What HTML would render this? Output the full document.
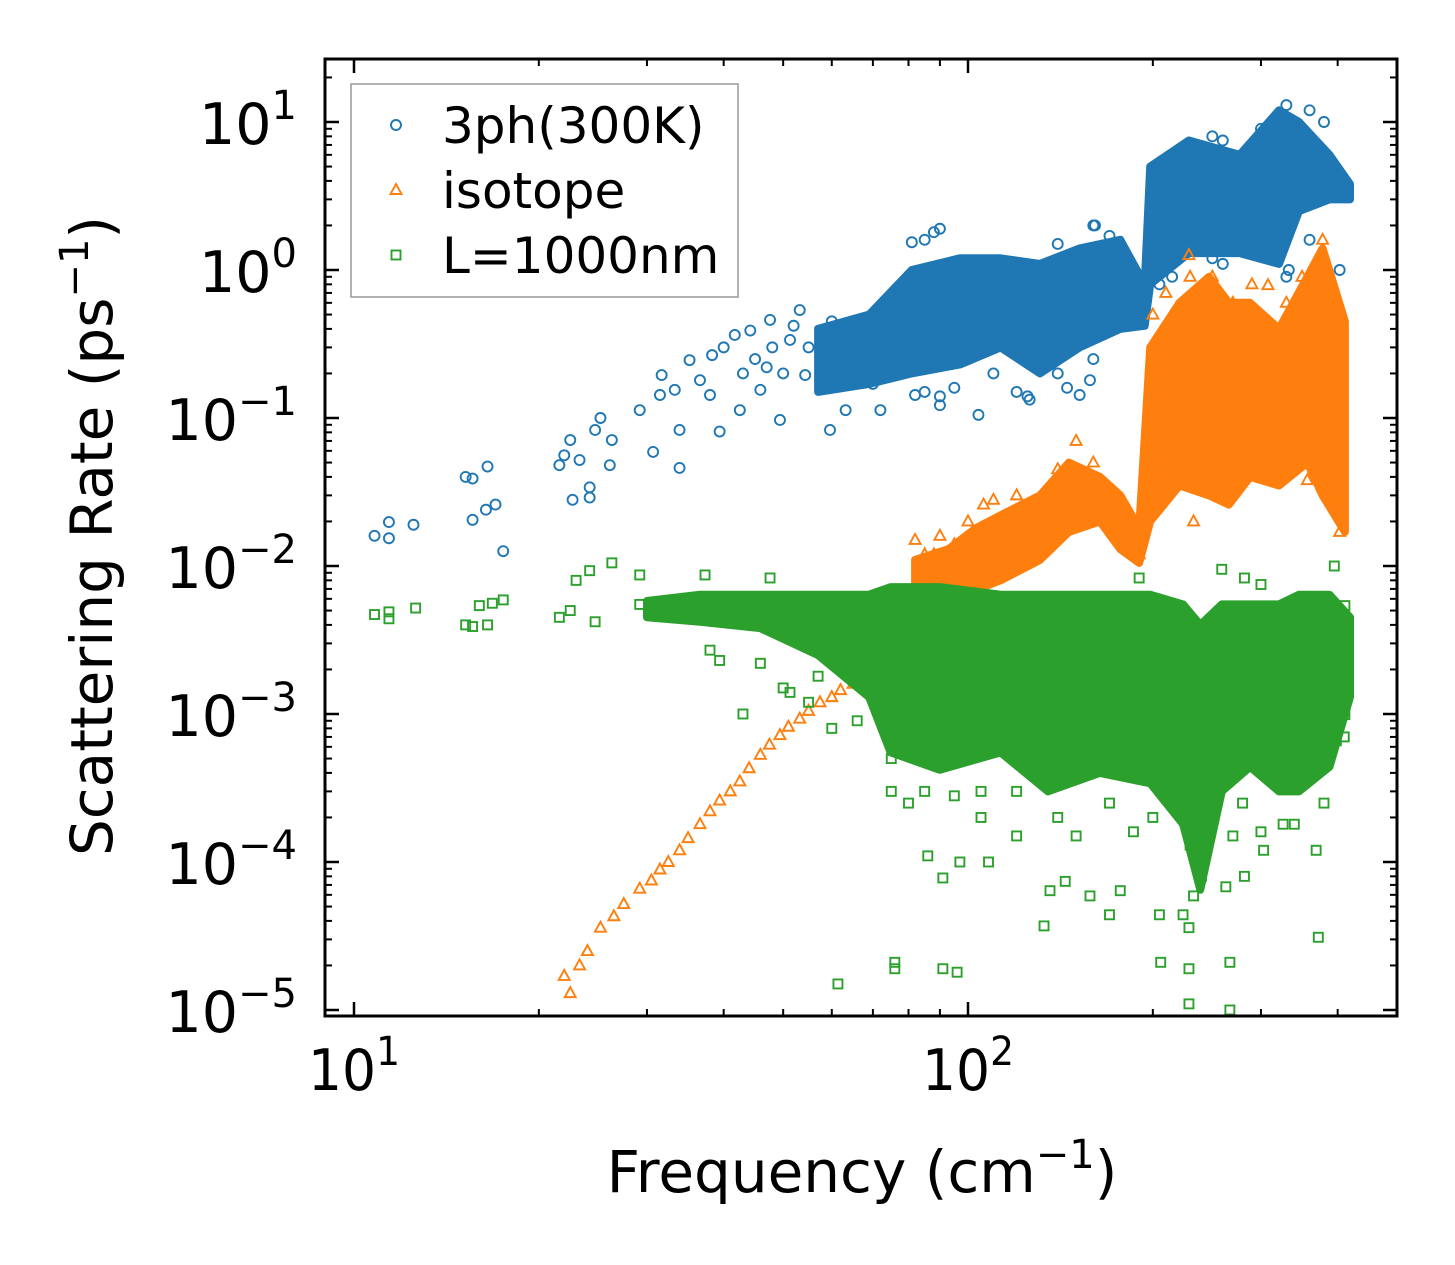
<!DOCTYPE html>
<html><head><meta charset="utf-8"><style>
html,body{margin:0;padding:0;background:#fff;}
svg{display:block;font-family:"DejaVu Sans","Liberation Sans",sans-serif;}
</style></head><body>
<svg id="chart" width="1455" height="1265" viewBox="0 0 1455 1265" xmlns="http://www.w3.org/2000/svg">
<rect x="0" y="0" width="1455" height="1265" fill="#fff"/>
<g id="marks"></g>
<g id="axes"></g>
</svg>
<script>
const xTickExps = [1, 2];
const yTickExps = [1, 0, -1, -2, -3, -4, -5];
const xLabel = "Frequency (cm";
const yLabel = "Scattering Rate (ps";

// Blue (3ph) dense band: freq, low, high
const blueBandF  = [57, 69, 81, 97, 113, 131, 152, 177, 194, 198, 229, 277, 321, 346, 388, 419];
const blueBandLo = [0.15, 0.17, 0.2, 0.23, 0.3, 0.2, 0.3, 0.4, 0.42, 0.8, 1.3, 1.3, 1.1, 2.5, 3.0, 3.0];
const blueBandHi = [0.4, 0.5, 1.0, 1.2, 1.2, 1.1, 1.4, 1.6, 0.8, 5.0, 7.5, 6.0, 12, 10, 6.0, 3.8];
// Blue sparse points
const blueF = [10.8,11.4,11.4,12.5,15.2,15.6,16.5,15.6,16.4,17,17.5,21.6,22,22.5,22.7,23.3,24.2,24.2,24.7,25.2,26.1,26.3,29.2,30.7,31.7,31.5,33.3,33.9,35.2,33.9,36.6,38,38.3,39.4,41.7,42.5,44.2,45.9,47.6,49.4,51.3,53.2,54.3,59.6,63.2,72,82,90,104,126,152,158,167,81,88,161,333,239,411,403,
  60,60,60,65,65,70,70,75,75,85,85,90,90,95,95,100,100,110,110,120,120,125,140,140,145,160,160,170,185,185,190,205,205,215,215,250,250,260,260,300,300,330,330,360,360,380,400,
  45,48,50,52,55,47,43,40];
const blueV = [0.016,0.0198,0.0154,0.019,0.04,0.039,0.047,0.0205,0.024,0.026,0.0126,0.048,0.056,0.071,0.028,0.052,0.034,0.029,0.083,0.1,0.048,0.071,0.113,0.059,0.195,0.143,0.155,0.046,0.246,0.083,0.18,0.143,0.266,0.081,0.364,0.113,0.39,0.155,0.46,0.097,0.337,0.536,0.195,0.083,0.113,0.113,0.143,0.122,0.105,0.133,0.143,0.18,0.39,1.54,1.8,2.0,1.0,2.2,3.2,1.0,
  0.3,0.25,0.45,0.35,0.2,0.45,0.17,0.5,0.3,1.6,0.15,1.9,0.14,1.0,0.16,0.9,0.25,1.1,0.2,1.0,0.15,0.14,1.5,0.2,0.16,2.0,0.25,1.7,0.9,0.5,0.55,5,0.8,6,0.9,8,1.2,7.5,1.1,9,1.5,13,0.9,12,1.6,10,3.5,
  0.25,0.3,0.2,0.42,0.3,0.22,0.2,0.3];

// Orange (isotope) points
const orangeF = [22,22.5,23.3,24,25.2,26.5,27.5,29.2,30.5,31.5,32.5,33.9,35,36.6,38,39.4,41,42.5,44,45.9,47.5,49.4,51,53.2,55,57.4,60,62,65,67,72,77.6,106,103,229,308,378,403,403,233,357,88,95,
  82,85,90,100,110,120,140,150,160,180,190,200,210,230,250,270,290,310,330,350,370,390];
const orangeV = [1.7e-5,1.3e-5,2e-5,2.5e-5,3.6e-5,4.3e-5,5.2e-5,6.6e-5,7.5e-5,8.9e-5,1.0e-4,1.2e-4,1.45e-4,1.8e-4,2.2e-4,2.6e-4,3.0e-4,3.5e-4,4.3e-4,5.3e-4,6.2e-4,7.2e-4,8.2e-4,9.3e-4,1.05e-3,1.2e-3,1.3e-3,1.45e-3,1.6e-3,1.7e-3,2e-3,3.6e-3,0.026,0.0087,1.26,0.79,1.6,0.028,0.017,0.02,0.038,0.012,0.014,
  0.015,0.012,0.016,0.02,0.028,0.03,0.045,0.07,0.05,0.025,0.012,0.5,0.7,0.9,0.9,0.6,0.8,0.35,0.6,0.9,0.25,0.1];
// Orange dense band
const orangeBandF  = [82, 93, 103, 113, 131, 146, 164, 177, 190, 198, 221, 247, 266, 288, 321, 357, 378, 411];
const orangeBandLo = [0.0031, 0.0044, 0.0069, 0.008, 0.011, 0.017, 0.02, 0.013, 0.0105, 0.02, 0.035, 0.03, 0.026, 0.04, 0.035, 0.05, 0.03, 0.017];
const orangeBandHi = [0.011, 0.013, 0.018, 0.022, 0.03, 0.05, 0.04, 0.03, 0.018, 0.3, 0.6, 0.9, 0.6, 0.6, 0.4, 0.9, 1.4, 0.45];

// Green (L=1000nm) dense band
const greenBandF  = [30, 36.6, 45.9, 57, 69, 74.8, 90, 113, 135, 164, 198, 224, 239, 259, 288, 321, 346, 388, 419];
const greenBandLo = [0.0045, 0.0042, 0.0038, 0.0025, 0.0013, 5.5e-4, 4.2e-4, 5.5e-4, 3.0e-4, 4.0e-4, 3.4e-4, 1.8e-4, 6.5e-5, 3.0e-4, 4.4e-4, 3.0e-4, 3.0e-4, 4.4e-4, 0.0013];
const greenBandHi = [0.0058, 0.0064, 0.0064, 0.0064, 0.0064, 0.0072, 0.0072, 0.0064, 0.0064, 0.0064, 0.0064, 0.0055, 0.004, 0.0055, 0.0055, 0.0055, 0.0064, 0.0064, 0.0045];
// Green sparse points
const greenF = [10.8,11.4,11.4,12.6,15.2,15.6,16.5,16,16.8,17.5,21.6,22.5,23,24.2,26.3,24.7,29.2,29.2,33.9,37.3,38,39.4,42.5,43,45.9,47.6,51.3,57,61.4,76,76,91,96,86,91,97,108,136,144,158,177,133,170,205,206,224,229,229,229,233,263,267,267,282,372,303,369,186,326,398,411,282,395,411,259,300,190,
  75,75,80,85,95,105,105,120,120,140,150,170,200,230,240,270,280,300,340,380,410,60,66,72,50,55];
const greenV = [0.0047,0.0049,0.0044,0.0052,0.004,0.0039,0.004,0.0054,0.0056,0.0059,0.0045,0.005,0.008,0.0093,0.0105,0.0042,0.0087,0.0055,0.0045,0.0087,0.0027,0.0023,0.0055,0.001,0.0022,0.0083,0.0014,0.0018,1.5e-5,1.9e-5,2.1e-5,1.9e-5,1.8e-5,1.1e-4,7.8e-5,1.0e-4,1.0e-4,6.4e-5,7.4e-5,5.9e-5,6.4e-5,3.7e-5,4.4e-5,4.4e-5,2.1e-5,4.4e-5,3.6e-5,1.9e-5,1.1e-5,5.9e-5,6.8e-5,2.1e-5,1.0e-5,8e-5,3.1e-5,1.2e-4,1.2e-4,1.6e-4,1.8e-4,6.6e-4,9.9e-4,0.0083,0.01,0.0054,0.0095,0.0075,0.0083,
  3e-4,5e-4,2.5e-4,3e-4,2.8e-4,3e-4,2e-4,1.5e-4,3e-4,2e-4,1.5e-4,2.5e-4,2e-4,1.3e-4,8e-5,1.5e-4,2.5e-4,1.6e-4,1.8e-4,2.5e-4,7e-4,8e-4,9e-4,1e-3,0.0015,0.0012];

const X0 = 325, X1 = 1397, Y0 = 59, Y1 = 1016;
function xs(f){ return 354 + 614 * (Math.log10(f) - 1); }
function ys(v){ return 270 - 148 * Math.log10(v); }
const NS = "http://www.w3.org/2000/svg";
function mk(tag, attrs, parent){
  const e = document.createElementNS(NS, tag);
  for (const k in attrs) e.setAttribute(k, attrs[k]);
  parent.appendChild(e); return e;
}
const marks = document.getElementById('marks');
const axes = document.getElementById('axes');
const C = {blue:"#1f77b4", orange:"#ff7f0e", green:"#2ca02c"};

function band(F, Lo, Hi, color, name){
  let pts = [];
  for (let i=0;i<F.length;i++) pts.push(xs(F[i]).toFixed(1)+","+ys(Hi[i]).toFixed(1));
  for (let i=F.length-1;i>=0;i--) pts.push(xs(F[i]).toFixed(1)+","+ys(Lo[i]).toFixed(1));
  const p = mk('polygon', {points: pts.join(" "), fill: color, stroke: color, 'stroke-width': 8, 'stroke-linejoin':'round'}, marks);
  
  
}
function circles(F, V, color, name){
  for (let i=0;i<F.length;i++){
    const c = mk('circle', {cx: xs(F[i]), cy: ys(V[i]), r: 5, fill: 'none', stroke: color, 'stroke-width': 1.9}, marks);
    
    
  }
}
function tris(F, V, color, name){
  for (let i=0;i<F.length;i++){
    const x = xs(F[i]), y = ys(V[i]);
    const t = mk('polygon', {points: `${x},${y-6} ${x-5.5},${y+4} ${x+5.5},${y+4}`, fill: 'none', stroke: color, 'stroke-width': 1.9}, marks);
    
    
  }
}
function squares(F, V, color, name){
  for (let i=0;i<F.length;i++){
    const s = mk('rect', {x: xs(F[i])-4.5, y: ys(V[i])-4.5, width: 9, height: 9, fill: 'none', stroke: color, 'stroke-width': 1.9}, marks);
    
    
  }
}
const clip = mk('clipPath', {id:'pc'}, document.getElementById('chart'));
mk('rect', {x:X0, y:Y0, width:X1-X0, height:Y1-Y0}, clip);
marks.setAttribute('clip-path', 'url(#pc)');

band(blueBandF, blueBandLo, blueBandHi, C.blue, 'blue-dense-band');
circles(blueF, blueV, C.blue, 'blue-point');
band(orangeBandF, orangeBandLo, orangeBandHi, C.orange, 'orange-dense-band');
tris(orangeF, orangeV, C.orange, 'orange-point');
band(greenBandF, greenBandLo, greenBandHi, C.green, 'green-dense-band');
squares(greenF, greenV, C.green, 'green-point');

// frame
const fr = mk('rect', {x:X0, y:Y0, width:X1-X0, height:Y1-Y0, fill:'none', stroke:'#000', 'stroke-width':3}, axes);



// x ticks
for (let e=0; e<=2; e++){
  for (let m=1; m<=9; m++){
    const f = m*Math.pow(10,e);
    const x = xs(f);
    if (x < X0+1 || x > X1-1) continue;
    const L = m===1 ? 14 : 7, w = m===1 ? 2.5 : 2;
    mk('line', {x1:x, y1:Y1, x2:x, y2:Y1-L, stroke:'#000', 'stroke-width':w}, axes);
    mk('line', {x1:x, y1:Y0, x2:x, y2:Y0+L, stroke:'#000', 'stroke-width':w}, axes);
  }
}
xTickExps.forEach(e=>{
  const t = mk('text', {x: xs(Math.pow(10,e)), y: 1090, 'font-size': 57, 'text-anchor':'middle', textLength: 92, lengthAdjust: 'spacingAndGlyphs'}, axes);
  
  
  t.innerHTML = `10<tspan dy="-25" font-size="40">${e}</tspan>`;
});
// y ticks
for (let e=-6; e<=1; e++){
  for (let m=1; m<=9; m++){
    const v = m*Math.pow(10,e);
    const y = ys(v);
    if (y < Y0+1 || y > Y1-1) continue;
    const L = m===1 ? 14 : 7, w = m===1 ? 2.5 : 2;
    mk('line', {x1:X0, y1:y, x2:X0+L, y2:y, stroke:'#000', 'stroke-width':w}, axes);
    mk('line', {x1:X1, y1:y, x2:X1-L, y2:y, stroke:'#000', 'stroke-width':w}, axes);
  }
}
yTickExps.forEach(e=>{
  const t = mk('text', {x: 297, y: ys(Math.pow(10,e))+22, 'font-size': 57, 'text-anchor':'end'}, axes);
  
  
  const s = e<0 ? '\u2212'+(-e) : ''+e;
  t.innerHTML = `10<tspan dy="-25" font-size="40">${s}</tspan>`;
});
// axis titles
const xt = mk('text', {x: 862, y: 1192, 'font-size': 58, 'text-anchor':'middle'}, axes);


xt.innerHTML = `${xLabel}<tspan dy="-24" font-size="40">\u22121</tspan><tspan dy="24">)</tspan>`;
const yt = mk('text', {x: 0, y: 0, 'font-size': 58, 'text-anchor':'middle', transform:'translate(112,536) rotate(-90)'}, axes);


yt.innerHTML = `${yLabel}<tspan dy="-24" font-size="40">\u22121</tspan><tspan dy="24">)</tspan>`;

// legend
const lg = mk('g', {}, axes);


mk('rect', {x:351, y:84, width:387, height:213, fill:'#fff', 'fill-opacity':0.8, stroke:'#999', 'stroke-width':1.5}, lg);
const legendNames = ["3ph(300K)", "isotope", "L=1000nm"];
const ly = [125, 190, 255];
mk('circle', {cx:396, cy:ly[0], r:5, fill:'none', stroke:C.blue, 'stroke-width':1.9}, lg);
mk('polygon', {points:`396,${ly[1]-6} 390.5,${ly[1]+4} 401.5,${ly[1]+4}`, fill:'none', stroke:C.orange, 'stroke-width':1.9}, lg);
mk('rect', {x:391.5, y:ly[2]-4.5, width:9, height:9, fill:'none', stroke:C.green, 'stroke-width':1.9}, lg);
legendNames.forEach((n,i)=>{
  const t = mk('text', {x:442, y:ly[i]+18, 'font-size':50}, lg);
  
  
  t.textContent = n;
});
</script>
</body></html>
